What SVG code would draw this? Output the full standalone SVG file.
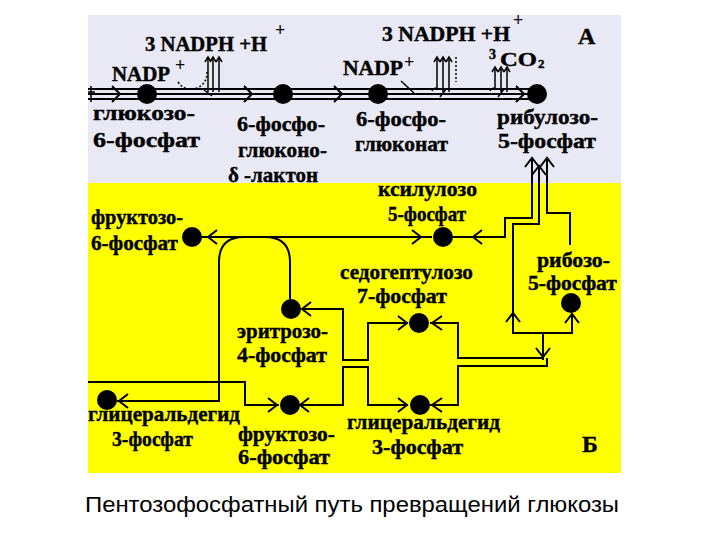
<svg xmlns="http://www.w3.org/2000/svg" width="720" height="540" viewBox="0 0 720 540">
<style>
.lbl{font-family:"Liberation Serif","Times New Roman",serif;font-weight:bold;font-size:22px;fill:#000;stroke:#000;stroke-width:0.4}
.sup{font-family:"Liberation Serif","Times New Roman",serif;font-weight:bold;font-size:18px;fill:#000}
.cap{font-family:"Liberation Sans",Arial,sans-serif;font-size:22px;fill:#000}
.ln{fill:none;stroke:#000;stroke-width:2}
.thin{fill:none;stroke:#000;stroke-width:1.5}
.tri{fill:none;stroke:#000;stroke-width:2}
.dash{fill:none;stroke:#000;stroke-width:1.5;stroke-dasharray:2,2}
.node{fill:#000}
</style>
<rect x="0" y="0" width="720" height="540" fill="#fff"/>
<rect x="88" y="15" width="533" height="168" fill="#E9E9F5"/>
<rect x="88" y="183" width="533" height="290" fill="#FFFF00"/>

<g id="connectors">
  <!-- top triple line -->
  <path class="tri" d="M88,89 H530 M88,94 H530 M88,99 H530"/>
  <path class="thin" d="M91,86 V102 M88,92 H95"/>
  <path class="ln" d="M112,86 L120,94 L112,102 M244,86 L252,94 L244,102 M334,86 L342,94 L334,102 M516,86 L524,94 L516,102"/>
  <!-- reaction 1 -->
  <path class="dash" d="M178,82 Q185,92 197,88 Q207,84 207,72"/>
  <path class="thin" d="M208,92 V58 M213,92 V58 M219,92 V58 M204,90 L212,96"/>
  <path class="thin" d="M205,62 L208,57 L211,62 M210,62 L213,57 L216,62 M216,62 L219,57 L222,62"/>
  <!-- reaction 2 -->
  <path class="thin" d="M401,81 L414,93"/>
  <path class="thin" d="M437,88 V58 M443,92 V58 M449,92 V58 M437,88 Q433,88 432,91 M440,97 L446,89"/>
  <path class="thin" d="M434,62 L437,57 L440,62 M440,62 L443,57 L446,62 M446,62 L449,57 L452,62"/>
  <path class="dash" d="M456,57 V82"/>
  <!-- reaction 3 -->
  <path class="thin" d="M495,88 V68 M501,92 V68 M507,92 V68 M495,88 Q491,88 490,91 M498,97 L504,89"/>
  <path class="thin" d="M492,72 L495,67 L498,72 M498,72 L501,67 L504,72 M504,72 L507,67 L510,72"/>
  <!-- ribulose bundle -->
  <path class="ln" d="M453,237 H505 V218 H532 V160"/>
  <path class="ln" d="M539,168 V224 H513 V333 H572 V313"/>
  <path class="ln" d="M547,160 V213 H570 V245"/>
  <path class="ln" d="M525,167 L532,158 L539,167 M532,175 L539,166 L546,175 M540,167 L547,158 L554,167"/>
  <path class="ln" d="M506,322 L513,313 L520,322 M565,323 L572,314 L579,323"/>
  <path class="ln" d="M543,333 V360 M536,348 L543,357 L550,348"/>
  <!-- fructose-6P <-> xylulose -->
  <path class="ln" d="M202,237 H432"/>
  <path class="ln" d="M217,230 L208,237 L217,244 M412,230 L421,237 L412,244 M482,230 L473,237 L482,244"/>
  <!-- sedoheptulose / GAP -->
  <path class="ln" d="M430,323 H458 V358 H543"/>
  <path class="ln" d="M430,405 H458 V366 H547 V358"/>
  <path class="ln" d="M442,316 L432,323 L442,330 M442,398 L432,405 L442,412"/>
  <path class="ln" d="M408,323 H368 V360 H343 V309 H302"/>
  <path class="ln" d="M408,405 H368 V367 H343 V405 H300"/>
  <path class="ln" d="M398,316 L407,323 L398,330 M398,398 L407,405 L398,412 M311,302 L302,309 L311,316 M309,398 L300,405 L309,412"/>
  <!-- arch and left lines -->
  <path class="ln" d="M290,299 V262 Q290,237 265,237 H244 Q219,237 219,262 V401 H117"/>
  <path class="ln" d="M128,394 L119,401 L128,408"/>
  <path class="ln" d="M88,382 H245 V405 H279"/>
  <path class="ln" d="M268,398 L277,405 L268,412"/>
</g>

<g id="reactions">
  <text class="lbl" x="145" y="51" style="font-size:20px" textLength="122" lengthAdjust="spacingAndGlyphs">3 NADPH +H</text>
  <text class="sup" x="275" y="36">+</text>
  <text class="lbl" x="112" y="81" style="font-size:20px" textLength="58" lengthAdjust="spacingAndGlyphs">NADP</text>
  <text class="sup" x="175" y="71">+</text>
  <text class="lbl" x="382" y="41" style="font-size:20px" textLength="128" lengthAdjust="spacingAndGlyphs">3 NADPH +H</text>
  <text class="sup" x="513" y="26">+</text>
  <text class="lbl" x="343" y="75" style="font-size:20px" textLength="60" lengthAdjust="spacingAndGlyphs">NADP</text>
  <text class="sup" x="404" y="68">+</text>
  <text class="lbl" x="489" y="59" style="font-size:14px">3</text>
  <text class="lbl" x="500" y="66" style="font-size:19px" textLength="37" lengthAdjust="spacingAndGlyphs">CO</text>
  <text class="lbl" x="538" y="68" style="font-size:13px">2</text>
  <text class="lbl" x="578" y="44" style="font-size:24px">А</text>
  <text class="lbl" x="582" y="452" style="font-size:24px">Б</text>
</g>

<g id="glucose6p">
  <circle class="node" cx="147" cy="94" r="10"/>
  <text class="lbl" x="93" y="120" textLength="102" lengthAdjust="spacingAndGlyphs">глюкозо-</text>
  <text class="lbl" x="93" y="147" textLength="107" lengthAdjust="spacingAndGlyphs">6-фосфат</text>
</g>
<g id="lactone">
  <circle class="node" cx="283" cy="94" r="10"/>
  <text class="lbl" x="237" y="131" textLength="88" lengthAdjust="spacingAndGlyphs">6-фосфо-</text>
  <text class="lbl" x="238" y="157" textLength="89" lengthAdjust="spacingAndGlyphs">глюконо-</text>
  <text class="lbl" x="228" y="182" textLength="90" lengthAdjust="spacingAndGlyphs">δ -лактон</text>
</g>
<g id="gluconate">
  <circle class="node" cx="378" cy="94" r="10"/>
  <text class="lbl" x="356" y="126" textLength="90" lengthAdjust="spacingAndGlyphs">6-фосфо-</text>
  <text class="lbl" x="355" y="151" textLength="93" lengthAdjust="spacingAndGlyphs">глюконат</text>
</g>
<g id="ribulose5p">
  <circle class="node" cx="537" cy="94" r="10"/>
  <text class="lbl" x="497" y="124" textLength="101" lengthAdjust="spacingAndGlyphs">рибулозо-</text>
  <text class="lbl" x="498" y="148" textLength="98" lengthAdjust="spacingAndGlyphs">5-фосфат</text>
</g>
<g id="fructose6p-a">
  <circle class="node" cx="192" cy="237" r="10"/>
  <text class="lbl" x="91" y="224" textLength="92" lengthAdjust="spacingAndGlyphs">фруктозо-</text>
  <text class="lbl" x="91" y="250" textLength="87" lengthAdjust="spacingAndGlyphs">6-фосфат</text>
</g>
<g id="xylulose5p">
  <circle class="node" cx="443" cy="237" r="10"/>
  <text class="lbl" x="378" y="196" textLength="99" lengthAdjust="spacingAndGlyphs">ксилулозо</text>
  <text class="lbl" x="388" y="221" textLength="78" lengthAdjust="spacingAndGlyphs">5-фосфат</text>
</g>
<g id="ribose5p">
  <circle class="node" cx="571" cy="303" r="10"/>
  <text class="lbl" x="537" y="267" style="font-size:20px" textLength="73" lengthAdjust="spacingAndGlyphs">рибозо-</text>
  <text class="lbl" x="528" y="290" style="font-size:20px" textLength="89" lengthAdjust="spacingAndGlyphs">5-фосфат</text>
</g>
<g id="sedoheptulose7p">
  <circle class="node" cx="419" cy="323" r="10"/>
  <text class="lbl" x="340" y="279" textLength="133" lengthAdjust="spacingAndGlyphs">седогептулозо</text>
  <text class="lbl" x="357" y="303" textLength="90" lengthAdjust="spacingAndGlyphs">7-фосфат</text>
</g>
<g id="erythrose4p">
  <circle class="node" cx="291" cy="309" r="10"/>
  <text class="lbl" x="237" y="338" textLength="91" lengthAdjust="spacingAndGlyphs">эритрозо-</text>
  <text class="lbl" x="237" y="362" textLength="90" lengthAdjust="spacingAndGlyphs">4-фосфат</text>
</g>
<g id="gap-a">
  <circle class="node" cx="107" cy="400" r="10"/>
  <text class="lbl" x="88" y="421" textLength="152" lengthAdjust="spacingAndGlyphs">глицеральдегид</text>
  <text class="lbl" x="112" y="446" textLength="81" lengthAdjust="spacingAndGlyphs">3-фосфат</text>
</g>
<g id="fructose6p-b">
  <circle class="node" cx="290" cy="405" r="10"/>
  <text class="lbl" x="238" y="441" textLength="97" lengthAdjust="spacingAndGlyphs">фруктозо-</text>
  <text class="lbl" x="238" y="464" textLength="92" lengthAdjust="spacingAndGlyphs">6-фосфат</text>
</g>
<g id="gap-b">
  <circle class="node" cx="420" cy="405" r="10"/>
  <text class="lbl" x="347" y="429" textLength="153" lengthAdjust="spacingAndGlyphs">глицеральдегид</text>
  <text class="lbl" x="372" y="454" textLength="91" lengthAdjust="spacingAndGlyphs">3-фосфат</text>
</g>

<text class="cap" x="85" y="512" textLength="534" lengthAdjust="spacingAndGlyphs">Пентозофосфатный путь превращений глюкозы</text>
</svg>
